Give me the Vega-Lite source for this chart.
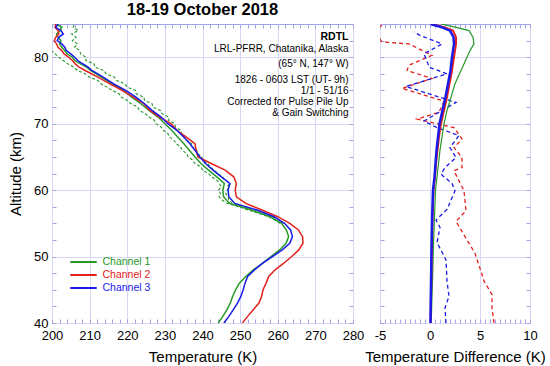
{
  "$schema": "https://vega.github.io/schema/vega-lite/v6.json",
  "background": "white",
  "padding": {"left": 8, "top": 1, "right": 0, "bottom": 0},
  "bounds": "flush",
  "spacing": 27,
  "config": {
    "font": "Liberation Sans",
    "view": {"stroke": "#a3a3ea", "strokeWidth": 1},
    "axis": {
      "domain": false,
      "gridColor": "#d8d8f6",
      "gridWidth": 1,
      "tickColor": "#a3a3ea",
      "labelFont": "Liberation Sans",
      "labelFontSize": 13,
      "labelColor": "black",
      "titleFont": "Liberation Sans",
      "titleFontSize": 15,
      "titleFontWeight": "normal",
      "titleColor": "black"
    }
  },
  "datasets": {
    "prof": [
      {"alt": 40, "Channel 1": 244.2, "Channel 2": 250.6, "Channel 3": 245.7},
      {"alt": 41, "Channel 1": 245.4, "Channel 2": 252.0, "Channel 3": 247.0},
      {"alt": 42, "Channel 1": 246.5, "Channel 2": 253.5, "Channel 3": 248.2},
      {"alt": 43, "Channel 1": 247.4, "Channel 2": 255.0, "Channel 3": 249.3},
      {"alt": 44, "Channel 1": 248.0, "Channel 2": 255.7, "Channel 3": 250.2},
      {"alt": 45, "Channel 1": 248.8, "Channel 2": 256.1, "Channel 3": 250.8},
      {"alt": 46, "Channel 1": 249.8, "Channel 2": 256.9, "Channel 3": 251.3},
      {"alt": 47, "Channel 1": 251.5, "Channel 2": 257.6, "Channel 3": 252.0},
      {"alt": 48, "Channel 1": 253.5, "Channel 2": 259.3, "Channel 3": 253.8},
      {"alt": 49, "Channel 1": 256.0, "Channel 2": 261.6, "Channel 3": 256.0},
      {"alt": 50, "Channel 1": 258.2, "Channel 2": 263.7, "Channel 3": 258.6},
      {"alt": 51, "Channel 1": 260.5, "Channel 2": 265.6, "Channel 3": 261.2},
      {"alt": 52, "Channel 1": 262.2, "Channel 2": 266.7, "Channel 3": 263.2},
      {"alt": 53, "Channel 1": 262.9, "Channel 2": 266.6, "Channel 3": 263.9},
      {"alt": 54, "Channel 1": 262.3, "Channel 2": 265.5, "Channel 3": 263.4},
      {"alt": 55, "Channel 1": 261.0, "Channel 2": 263.2, "Channel 3": 261.8},
      {"alt": 56, "Channel 1": 258.0, "Channel 2": 260.0, "Channel 3": 259.0},
      {"alt": 57, "Channel 1": 253.0, "Channel 2": 255.8, "Channel 3": 254.5},
      {"alt": 58, "Channel 1": 247.2, "Channel 2": 251.5, "Channel 3": 248.6},
      {"alt": 59, "Channel 1": 245.6, "Channel 2": 249.0, "Channel 3": 247.0},
      {"alt": 60, "Channel 1": 245.4, "Channel 2": 248.7, "Channel 3": 246.8},
      {"alt": 61, "Channel 1": 245.8, "Channel 2": 249.0, "Channel 3": 247.3},
      {"alt": 62, "Channel 1": 243.8, "Channel 2": 248.3, "Channel 3": 245.0},
      {"alt": 63, "Channel 1": 241.6, "Channel 2": 246.0, "Channel 3": 242.8},
      {"alt": 64, "Channel 1": 239.6, "Channel 2": 242.3, "Channel 3": 240.8},
      {"alt": 65, "Channel 1": 238.0, "Channel 2": 238.8, "Channel 3": 239.3},
      {"alt": 66, "Channel 1": 236.5, "Channel 2": 238.3, "Channel 3": 238.0},
      {"alt": 67, "Channel 1": 235.0, "Channel 2": 238.0, "Channel 3": 236.6},
      {"alt": 68, "Channel 1": 233.4, "Channel 2": 235.6, "Channel 3": 235.0},
      {"alt": 69, "Channel 1": 231.8, "Channel 2": 233.2, "Channel 3": 233.2},
      {"alt": 70, "Channel 1": 230.0, "Channel 2": 231.6, "Channel 3": 230.8},
      {"alt": 71, "Channel 1": 228.2, "Channel 2": 228.6, "Channel 3": 229.0},
      {"alt": 72, "Channel 1": 225.8, "Channel 2": 226.0, "Channel 3": 226.6},
      {"alt": 73, "Channel 1": 223.6, "Channel 2": 224.4, "Channel 3": 224.6},
      {"alt": 74, "Channel 1": 221.2, "Channel 2": 221.6, "Channel 3": 222.3},
      {"alt": 75, "Channel 1": 219.0, "Channel 2": 218.6, "Channel 3": 219.6},
      {"alt": 76, "Channel 1": 216.0, "Channel 2": 215.4, "Channel 3": 216.4},
      {"alt": 77, "Channel 1": 213.2, "Channel 2": 212.2, "Channel 3": 213.6},
      {"alt": 78, "Channel 1": 210.2, "Channel 2": 208.8, "Channel 3": 210.6},
      {"alt": 78.5, "Channel 1": 209.2, "Channel 2": 207.2, "Channel 3": 209.6},
      {"alt": 79, "Channel 1": 207.6, "Channel 2": 206.2, "Channel 3": 208.2},
      {"alt": 79.5, "Channel 1": 206.0, "Channel 2": 205.4, "Channel 3": 206.8},
      {"alt": 80, "Channel 1": 205.4, "Channel 2": 204.4, "Channel 3": 206.0},
      {"alt": 80.5, "Channel 1": 204.0, "Channel 2": 203.2, "Channel 3": 205.0},
      {"alt": 81, "Channel 1": 203.4, "Channel 2": 202.6, "Channel 3": 203.8},
      {"alt": 81.5, "Channel 1": 202.6, "Channel 2": 201.6, "Channel 3": 203.4},
      {"alt": 82, "Channel 1": 202.0, "Channel 2": 201.2, "Channel 3": 202.6},
      {"alt": 82.5, "Channel 1": 202.4, "Channel 2": 200.6, "Channel 3": 201.4},
      {"alt": 83, "Channel 1": 201.6, "Channel 2": 201.0, "Channel 3": 201.8},
      {"alt": 83.5, "Channel 1": 201.2, "Channel 2": 201.8, "Channel 3": 203.0},
      {"alt": 84, "Channel 1": 202.2, "Channel 2": 201.6, "Channel 3": 202.4},
      {"alt": 84.5, "Channel 1": 202.6, "Channel 2": 200.8, "Channel 3": 201.0},
      {"alt": 85, "Channel 1": 201.2, "Channel 2": 201.0, "Channel 3": 201.6}
    ],
    "err": [
      {"alt": 55, "lo": 260.6, "hi": 261.5},
      {"alt": 55.5, "lo": 259.2, "hi": 260.4},
      {"alt": 56, "lo": 257.5, "hi": 258.6},
      {"alt": 56.5, "lo": 255.0, "hi": 256.4},
      {"alt": 57, "lo": 252.2, "hi": 253.9},
      {"alt": 57.5, "lo": 249.6, "hi": 251.2},
      {"alt": 58, "lo": 246.6, "hi": 248.0},
      {"alt": 58.5, "lo": 245.2, "hi": 247.0},
      {"alt": 59, "lo": 244.4, "hi": 246.8},
      {"alt": 59.5, "lo": 244.8, "hi": 246.2},
      {"alt": 60, "lo": 244.2, "hi": 246.7},
      {"alt": 60.5, "lo": 245.0, "hi": 246.6},
      {"alt": 61, "lo": 244.5, "hi": 247.2},
      {"alt": 61.5, "lo": 243.8, "hi": 246.0},
      {"alt": 62, "lo": 242.4, "hi": 245.3},
      {"alt": 62.5, "lo": 241.6, "hi": 244.0},
      {"alt": 63, "lo": 240.0, "hi": 243.2},
      {"alt": 63.5, "lo": 239.6, "hi": 242.0},
      {"alt": 64, "lo": 238.0, "hi": 241.4},
      {"alt": 64.5, "lo": 237.4, "hi": 240.0},
      {"alt": 65, "lo": 236.2, "hi": 239.8},
      {"alt": 65.5, "lo": 235.8, "hi": 238.6},
      {"alt": 66, "lo": 234.6, "hi": 238.5},
      {"alt": 66.5, "lo": 234.2, "hi": 237.2},
      {"alt": 67, "lo": 233.0, "hi": 237.1},
      {"alt": 67.5, "lo": 232.4, "hi": 235.8},
      {"alt": 68, "lo": 231.2, "hi": 235.6},
      {"alt": 68.5, "lo": 230.8, "hi": 234.4},
      {"alt": 69, "lo": 229.6, "hi": 234.2},
      {"alt": 69.5, "lo": 229.0, "hi": 232.8},
      {"alt": 70, "lo": 227.6, "hi": 232.6},
      {"alt": 70.5, "lo": 227.2, "hi": 231.0},
      {"alt": 71, "lo": 225.8, "hi": 231.0},
      {"alt": 71.5, "lo": 224.8, "hi": 229.2},
      {"alt": 72, "lo": 223.2, "hi": 228.8},
      {"alt": 72.5, "lo": 222.8, "hi": 226.8},
      {"alt": 73, "lo": 221.0, "hi": 226.6},
      {"alt": 73.5, "lo": 220.0, "hi": 224.6},
      {"alt": 74, "lo": 218.4, "hi": 224.4},
      {"alt": 74.5, "lo": 217.8, "hi": 222.4},
      {"alt": 75, "lo": 216.0, "hi": 222.2},
      {"alt": 75.5, "lo": 214.6, "hi": 220.0},
      {"alt": 76, "lo": 213.0, "hi": 219.4},
      {"alt": 76.5, "lo": 212.2, "hi": 217.2},
      {"alt": 77, "lo": 210.0, "hi": 216.6},
      {"alt": 77.5, "lo": 208.8, "hi": 214.4},
      {"alt": 78, "lo": 206.8, "hi": 213.8},
      {"alt": 78.5, "lo": 205.8, "hi": 211.4},
      {"alt": 79, "lo": 204.2, "hi": 211.2},
      {"alt": 79.5, "lo": 203.0, "hi": 209.0},
      {"alt": 80, "lo": 201.8, "hi": 209.0},
      {"alt": 80.5, "lo": 200.8, "hi": 207.6},
      {"alt": 81, "lo": 199.8, "hi": 207.4},
      {"alt": 81.5, "lo": 199.2, "hi": 206.0},
      {"alt": 82, "lo": 198.4, "hi": 206.8},
      {"alt": 82.5, "lo": 199.0, "hi": 205.4},
      {"alt": 83, "lo": 198.0, "hi": 206.4},
      {"alt": 83.5, "lo": 199.2, "hi": 205.2},
      {"alt": 84, "lo": 198.4, "hi": 207.0},
      {"alt": 84.5, "lo": 199.4, "hi": 205.6},
      {"alt": 85, "lo": 198.2, "hi": 206.0}
    ],
    "sol": [
      {"alt": 40, "g": 0.12, "r": 0.05, "b": 0.05},
      {"alt": 44, "g": 0.2, "r": 0.1, "b": 0.08},
      {"alt": 48, "g": 0.28, "r": 0.15, "b": 0.12},
      {"alt": 52, "g": 0.35, "r": 0.2, "b": 0.16},
      {"alt": 56, "g": 0.45, "r": 0.25, "b": 0.22},
      {"alt": 60, "g": 0.55, "r": 0.35, "b": 0.3},
      {"alt": 62, "g": 0.7, "r": 0.5, "b": 0.45},
      {"alt": 64, "g": 0.85, "r": 0.6, "b": 0.55},
      {"alt": 66, "g": 1.0, "r": 0.75, "b": 0.65},
      {"alt": 68, "g": 1.2, "r": 0.9, "b": 0.8},
      {"alt": 70, "g": 1.4, "r": 1.1, "b": 0.95},
      {"alt": 72, "g": 1.7, "r": 1.4, "b": 1.25},
      {"alt": 74, "g": 2.1, "r": 1.7, "b": 1.55},
      {"alt": 76, "g": 2.5, "r": 1.95, "b": 1.8},
      {"alt": 78, "g": 3.1, "r": 2.2, "b": 2.05},
      {"alt": 80, "g": 3.7, "r": 2.4, "b": 2.2},
      {"alt": 81, "g": 4.0, "r": 2.5, "b": 2.3},
      {"alt": 82, "g": 4.4, "r": 2.6, "b": 2.4},
      {"alt": 83, "g": 4.3, "r": 2.6, "b": 2.35},
      {"alt": 84, "g": 3.9, "r": 2.3, "b": 2.0},
      {"alt": 84.5, "g": 2.6, "r": 1.4, "b": 1.2},
      {"alt": 85, "g": 1.1, "r": 0.2, "b": 0.05}
    ],
    "bd": [
      {"alt": 83.8, "d": -1.6},
      {"alt": 83.3, "d": -1.0},
      {"alt": 82, "d": 1.2},
      {"alt": 80.5, "d": -0.6},
      {"alt": 79, "d": -0.2},
      {"alt": 78.5, "d": -0.1},
      {"alt": 77.5, "d": 1.7},
      {"alt": 75.6, "d": -2.4},
      {"alt": 73.2, "d": 2.6},
      {"alt": 70.4, "d": -0.6},
      {"alt": 69.4, "d": 0.7},
      {"alt": 68.2, "d": 2.9},
      {"alt": 66.4, "d": 2.0},
      {"alt": 64.9, "d": 2.6},
      {"alt": 63.4, "d": 1.5},
      {"alt": 62.4, "d": 1.1},
      {"alt": 61, "d": 2.2},
      {"alt": 59.9, "d": 2.5},
      {"alt": 57.1, "d": 1.7},
      {"alt": 55.5, "d": 0.6},
      {"alt": 54.4, "d": 1.0},
      {"alt": 52.1, "d": 0.7},
      {"alt": 49.5, "d": 1.6},
      {"alt": 46.3, "d": 1.7},
      {"alt": 44, "d": 1.9},
      {"alt": 42.3, "d": 1.5},
      {"alt": 40, "d": 1.6}
    ],
    "rd": [
      {"alt": 84.8, "d": -4.8},
      {"alt": 84, "d": -5.6},
      {"alt": 82.3, "d": -4.8},
      {"alt": 82, "d": -2.1},
      {"alt": 80.3, "d": 0.2},
      {"alt": 78.8, "d": -2.1},
      {"alt": 78, "d": -2.3},
      {"alt": 76.8, "d": 0.2},
      {"alt": 75.3, "d": -2.8},
      {"alt": 73.4, "d": 1.4},
      {"alt": 71.7, "d": 0.9},
      {"alt": 70.7, "d": -1.3},
      {"alt": 69.4, "d": 2.4},
      {"alt": 67.7, "d": 3.2},
      {"alt": 66.4, "d": 2.4},
      {"alt": 64.9, "d": 3.2},
      {"alt": 63.4, "d": 3.2},
      {"alt": 62.9, "d": 2.4},
      {"alt": 59.9, "d": 3.4},
      {"alt": 56.9, "d": 3.6},
      {"alt": 55.3, "d": 2.6},
      {"alt": 53, "d": 3.5},
      {"alt": 50.5, "d": 4.5},
      {"alt": 47.3, "d": 5.2},
      {"alt": 46.3, "d": 5.4},
      {"alt": 44.3, "d": 6.2},
      {"alt": 42.3, "d": 6.2},
      {"alt": 40, "d": 6.4}
    ]
  },
  "hconcat": [
    {
      "width": 301,
      "height": 299,
      "title": {"text": "18-19 October 2018", "fontSize": 16.5, "fontWeight": "bold", "font": "Liberation Sans", "color": "black", "anchor": "middle", "offset": 0},
      "resolve": {"axis": {"x": "independent", "y": "independent"}},
      "encoding": {
        "x": {"field": "T", "type": "quantitative", "scale": {"domain": [200, 280], "nice": false, "zero": false}, "axis": null},
        "y": {"field": "alt", "type": "quantitative", "scale": {"domain": [40, 85], "nice": false, "zero": false}, "axis": null}
      },
      "layer": [
        {
          "data": {"name": "err"},
          "transform": [{"fold": ["lo", "hi"], "as": ["bound", "T"]}],
          "mark": {"type": "line", "color": "#26992a", "strokeWidth": 1.1, "strokeDash": [3, 2], "clip": true},
          "encoding": {
            "x": {
              "field": "T", "type": "quantitative",
              "scale": {"domain": [200, 280], "nice": false, "zero": false},
              "axis": {
                "title": "Temperature (K)",
                "values": [200, 202, 204, 206, 208, 210, 212, 214, 216, 218, 220, 222, 224, 226, 228, 230, 232, 234, 236, 238, 240, 242, 244, 246, 248, 250, 252, 254, 256, 258, 260, 262, 264, 266, 268, 270, 272, 274, 276, 278, 280],
                "labelExpr": "datum.value % 10 === 0 ? datum.label : ''",
                "labelOverlap": false,
                "labelFlush": false,
                "labelBound": false,
                "gridColor": {"condition": {"test": "datum.value % 10 === 0", "value": "#d8d8f6"}, "value": "transparent"},
                "tickSize": -4,
                "labelPadding": 10,
                "titlePadding": 7
              }
            },
            "y": {
              "field": "alt", "type": "quantitative",
              "scale": {"domain": [40, 85], "nice": false, "zero": false},
              "axis": {
                "title": "Altitude (km)",
                "values": [40, 42.5, 45, 47.5, 50, 52.5, 55, 57.5, 60, 62.5, 65, 67.5, 70, 72.5, 75, 77.5, 80, 82.5, 85],
                "labelExpr": "datum.value % 10 === 0 ? datum.label : ''",
                "labelOverlap": false,
                "labelFlush": false,
                "labelBound": false,
                "gridColor": {"condition": {"test": "datum.value % 10 === 0", "value": "#d8d8f6"}, "value": "transparent"},
                "tickSize": -4,
                "labelPadding": 8,
                "titlePadding": 10
              }
            },
            "detail": {"field": "bound"},
            "order": {"field": "alt"}
          }
        },
        {
          "data": {"name": "err"},
          "transform": [{"fold": ["lo"], "as": ["bound", "T"]}],
          "mark": {"type": "line", "opacity": 0, "clip": true},
          "encoding": {
            "x": {
              "field": "T", "type": "quantitative",
              "scale": {"domain": [200, 280], "nice": false, "zero": false},
              "axis": {
                "orient": "top", "title": null, "labels": false, "grid": false,
                "values": [200, 202, 204, 206, 208, 210, 212, 214, 216, 218, 220, 222, 224, 226, 228, 230, 232, 234, 236, 238, 240, 242, 244, 246, 248, 250, 252, 254, 256, 258, 260, 262, 264, 266, 268, 270, 272, 274, 276, 278, 280],
                "tickSize": -4
              }
            },
            "y": {
              "field": "alt", "type": "quantitative",
              "scale": {"domain": [40, 85], "nice": false, "zero": false},
              "axis": {
                "orient": "right", "title": null, "labels": false, "grid": false,
                "values": [40, 42.5, 45, 47.5, 50, 52.5, 55, 57.5, 60, 62.5, 65, 67.5, 70, 72.5, 75, 77.5, 80, 82.5, 85],
                "tickSize": -4
              }
            },
            "order": {"field": "alt"}
          }
        },
        {
          "data": {"name": "prof"},
          "transform": [{"fold": ["Channel 1", "Channel 2", "Channel 3"], "as": ["ch", "T"]}],
          "mark": {"type": "line", "strokeWidth": 1.5, "clip": true},
          "encoding": {
            "color": {
              "field": "ch", "type": "nominal",
              "scale": {"domain": ["Channel 1", "Channel 2", "Channel 3"], "range": ["#26992a", "#e4211d", "#1a1ae8"]},
              "legend": {
                "title": null,
                "orient": "none",
                "legendX": 24.5,
                "legendY": 231,
                "padding": 0,
                "symbolType": "M-2.2,0H2.2",
                "symbolSize": 144,
                "symbolStrokeWidth": 2,
                "labelFontSize": 10.5,
                "labelFont": "Liberation Sans",
                "labelOffset": 12,
                "rowPadding": 0,
                "encode": {"labels": {"update": {"fill": {"signal": "datum.value === 'Channel 1' ? '#26992a' : datum.value === 'Channel 2' ? '#e4211d' : '#1a1ae8'"}}}}
              }
            },
            "order": {"field": "alt"}
          }
        },
        {
          "data": {"values": [{"T": 278.8, "alt": 82.6, "note": "RDTL"}]},
          "mark": {"type": "text", "align": "right", "baseline": "alphabetic", "fontSize": 10.5, "fontWeight": "bold", "font": "Liberation Sans", "color": "black"},
          "encoding": {"text": {"field": "note"}}
        },
        {
          "data": {"values": [{"T": 278.8, "alt": 80.8}]},
          "mark": {"type": "text", "align": "right", "baseline": "alphabetic", "fontSize": 10, "font": "Liberation Sans", "color": "black", "lineHeight": 15},
          "encoding": {"text": {"value": ["LRL-PFRR, Chatanika, Alaska", "(65° N, 147° W)"]}}
        },
        {
          "data": {"values": [{"T": 278.8, "alt": 76.1}]},
          "mark": {"type": "text", "align": "right", "baseline": "alphabetic", "fontSize": 10, "font": "Liberation Sans", "color": "black", "lineHeight": 11},
          "encoding": {"text": {"value": ["1826 - 0603 LST (UT- 9h)", "1/1 - 51/16", "Corrected for Pulse Pile Up", "& Gain Switching"]}}
        }
      ]
    },
    {
      "width": 150,
      "height": 299,
      "resolve": {"axis": {"x": "independent", "y": "independent"}},
      "encoding": {
        "x": {"field": "d", "type": "quantitative", "scale": {"domain": [-5, 10], "nice": false, "zero": false}, "axis": null},
        "y": {"field": "alt", "type": "quantitative", "scale": {"domain": [40, 85], "nice": false, "zero": false}, "axis": null},
        "order": {"field": "alt"}
      },
      "layer": [
        {
          "data": {"name": "rd"},
          "mark": {"type": "line", "color": "#e4211d", "strokeWidth": 1.3, "strokeDash": [4, 3], "clip": true},
          "encoding": {
            "x": {
              "field": "d", "type": "quantitative",
              "scale": {"domain": [-5, 10], "nice": false, "zero": false},
              "axis": {
                "title": "Temperature Difference (K)",
                "values": [-5, -4.5, -4, -3.5, -3, -2.5, -2, -1.5, -1, -0.5, 0, 0.5, 1, 1.5, 2, 2.5, 3, 3.5, 4, 4.5, 5, 5.5, 6, 6.5, 7, 7.5, 8, 8.5, 9, 9.5, 10],
                "labelExpr": "datum.value % 5 === 0 ? toString(datum.value) : ''",
                "labelOverlap": false,
                "labelFlush": false,
                "labelBound": false,
                "gridColor": {"condition": {"test": "datum.value % 5 === 0", "value": "#d8d8f6"}, "value": "transparent"},
                "tickSize": -4,
                "labelPadding": 10,
                "titlePadding": 7
              }
            },
            "y": {
              "field": "alt", "type": "quantitative",
              "scale": {"domain": [40, 85], "nice": false, "zero": false},
              "axis": {
                "title": null,
                "labels": false,
                "values": [40, 42.5, 45, 47.5, 50, 52.5, 55, 57.5, 60, 62.5, 65, 67.5, 70, 72.5, 75, 77.5, 80, 82.5, 85],
                "gridColor": {"condition": {"test": "datum.value % 10 === 0", "value": "#d8d8f6"}, "value": "transparent"},
                "tickSize": -4
              }
            }
          }
        },
        {
          "data": {"name": "bd"},
          "mark": {"type": "line", "color": "#1a1ae8", "strokeWidth": 1.3, "strokeDash": [4, 3], "clip": true},
          "encoding": {
            "x": {
              "field": "d", "type": "quantitative",
              "scale": {"domain": [-5, 10], "nice": false, "zero": false},
              "axis": {
                "orient": "top", "title": null, "labels": false, "grid": false,
                "values": [-5, -4.5, -4, -3.5, -3, -2.5, -2, -1.5, -1, -0.5, 0, 0.5, 1, 1.5, 2, 2.5, 3, 3.5, 4, 4.5, 5, 5.5, 6, 6.5, 7, 7.5, 8, 8.5, 9, 9.5, 10],
                "tickSize": -4
              }
            },
            "y": {
              "field": "alt", "type": "quantitative",
              "scale": {"domain": [40, 85], "nice": false, "zero": false},
              "axis": {
                "orient": "right", "title": null, "labels": false, "grid": false,
                "values": [40, 42.5, 45, 47.5, 50, 52.5, 55, 57.5, 60, 62.5, 65, 67.5, 70, 72.5, 75, 77.5, 80, 82.5, 85],
                "tickSize": -4
              }
            }
          }
        },
        {
          "data": {"name": "sol"},
          "transform": [{"fold": ["g"], "as": ["s", "d"]}],
          "mark": {"type": "line", "color": "#26992a", "strokeWidth": 1.2, "clip": true}
        },
        {
          "data": {"name": "sol"},
          "transform": [{"fold": ["r"], "as": ["s", "d"]}],
          "mark": {"type": "line", "color": "#e4211d", "strokeWidth": 2, "clip": true}
        },
        {
          "data": {"name": "sol"},
          "transform": [{"fold": ["b"], "as": ["s", "d"]}],
          "mark": {"type": "line", "color": "#1a1ae8", "strokeWidth": 2.5, "clip": true}
        }
      ]
    }
  ]
}
